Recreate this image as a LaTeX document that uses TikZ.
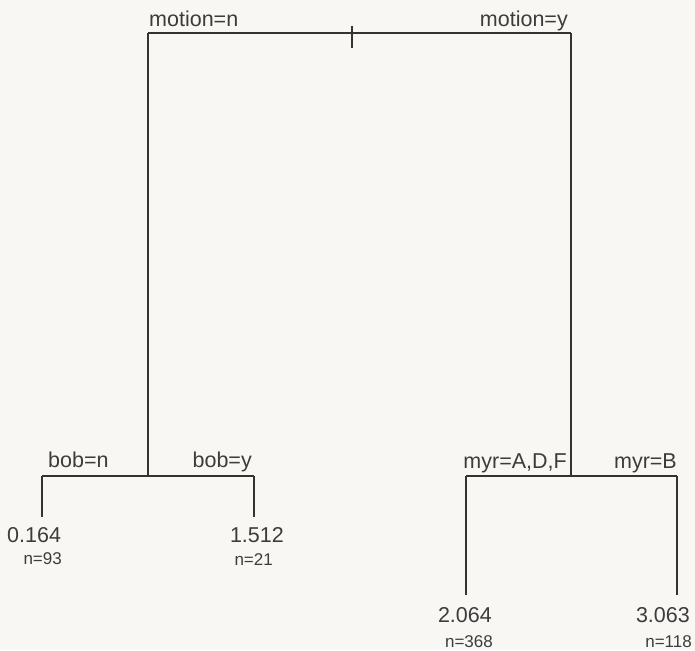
\documentclass[tikz,border=0pt]{standalone}
\usepackage{fontspec}
\setmainfont{Liberation Sans}
\definecolor{bgc}{HTML}{F8F7F3}
\definecolor{ink}{HTML}{333333}
\definecolor{txt}{HTML}{3C3C3C}
\begin{document}
\begin{tikzpicture}[x=1pt,y=-1pt,
  edge/.style={draw=ink,line width=1.2pt},
  lab/.style={inner sep=0pt,text=txt,font=\fontsize{21.5}{23}\selectfont},
  cnt/.style={inner sep=0pt,text=txt,font=\fontsize{17}{19}\selectfont}]
\fill[bgc] (0,0) rectangle (695,650);
\useasboundingbox (0,0) rectangle (695,650);
% junction coordinates
\coordinate (rL) at (148,33);
\coordinate (rR) at (571,33);
\coordinate (tickT) at (352,26);
\coordinate (tickB) at (352,48);
\coordinate (aJ) at (148,476);
\coordinate (aL) at (42,476);
\coordinate (aR) at (254,476);
\coordinate (aLe) at (42,517);
\coordinate (aRe) at (254,517);
\coordinate (bJ) at (571,476);
\coordinate (bL) at (466,476);
\coordinate (bR) at (677,476);
\coordinate (bLe) at (466,595);
\coordinate (bRe) at (677,595);
% connectors
\draw[edge] (rL) -- (rR);
\draw[edge] (tickT) -- (tickB);
\draw[edge] (rL) -- (aJ);
\draw[edge] (rR) -- (bJ);
\draw[edge] (aL) -- (aR);
\draw[edge] (aL) -- (aLe);
\draw[edge] (aR) -- (aRe);
\draw[edge] (bL) -- (bR);
\draw[edge] (bL) -- (bLe);
\draw[edge] (bR) -- (bRe);
% split labels
\node[lab,anchor=base west] (mn) at (149,27) {motion=n};
\node[lab,anchor=base east] (my) at (568,27) {motion=y};
\node[lab,anchor=base west] (bn) at (48,467) {bob=n};
\node[lab,anchor=base east] (by) at (252,467) {bob=y};
\node[lab,anchor=base east] (ma) at (567,468) {myr=A,D,F};
\node[lab,anchor=base east] (mb) at (677,468) {myr=B};
% leaves
\node[lab,anchor=base west] (v1) at (7,542) {0.164};
\node[cnt,anchor=base east] (n1) at (62,564) {n=93};
\node[lab,anchor=base east] (v2) at (284,542) {1.512};
\node[cnt,anchor=base east] (n2) at (273,565) {n=21};
\node[lab,anchor=base east] (v3) at (492,622) {2.064};
\node[cnt,anchor=base east] (n3) at (493,647) {n=368};
\node[lab,anchor=base east] (v4) at (690,622) {3.063};
\node[cnt,anchor=base east] (n4) at (692,647) {n=118};
\end{tikzpicture}
\end{document}
